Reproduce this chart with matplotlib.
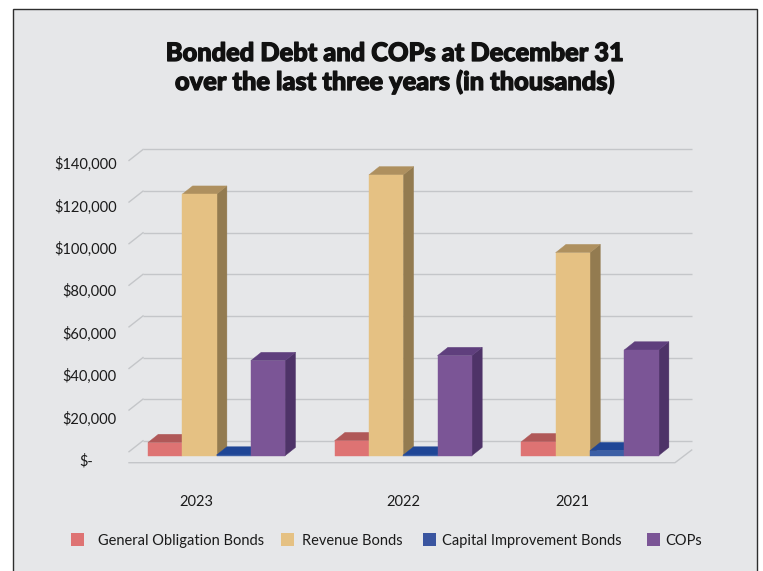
import matplotlib
matplotlib.use("Agg")
import matplotlib.pyplot as plt
import matplotlib.transforms as mtransforms
import matplotlib.patheffects as pe
from matplotlib import font_manager
from matplotlib.patches import Polygon, Rectangle

# ---- data (thousands of dollars) ----
years = ["2023", "2022", "2021"]
series_names = ["General Obligation Bonds", "Revenue Bonds",
                "Capital Improvement Bonds", "COPs"]
general_obligation = [6300, 7200, 6700]
revenue_bonds = [125700, 135000, 97600]
capital_improvement = [300, 300, 2400]
cops = [45700, 48100, 50800]
value_ticks = [0, 20000, 40000, 60000, 80000, 100000, 120000, 140000]

series_values = [general_obligation, revenue_bonds, capital_improvement, cops]

# shaded faces of each box: front, top, side
face_colors = [
    ("#de7373", "#b05858", "#994848"),
    ("#e5c183", "#ae905f", "#937b50"),
    ("#3c5fa5", "#1f4696", "#1a3a7c"),
    ("#7b5596", "#5f3f7d", "#4e3368"),
]
legend_colors = ["#de7373", "#e5c183", "#3a55a0", "#7b5596"]

GRID = "#c4c6c9"
TEXT = "#1b1b1b"
PANEL = "#e6e7e9"

W, H = 763, 571
fig = plt.figure(figsize=(W / 100, H / 100), dpi=100)
fig.patch.set_facecolor("white")

# (x from left, y from top) in pixels -> figure coordinates
PIX = mtransforms.Affine2D().scale(1 / W, -1 / H).translate(0, 1) + fig.transFigure

available = {f.name for f in font_manager.fontManager.ttflist}
body_font = "Lato" if "Lato" in available else "DejaVu Sans"

# framed grey panel
fig.add_artist(Rectangle((12.5, 9.3), 744.2, 600, transform=PIX,
                         facecolor=PANEL, edgecolor="#2e2e2e",
                         linewidth=1.0, zorder=-10))

# ---- plotting axes: category index on x, value on y ----
ORIGIN_X, ORIGIN_Y = 216.5, 455.7     # pixel of category 0 / value 0 on the bar fronts
CAT_PX = 186.7                        # pixels per category
VAL_PX = 2.08 / 1000                  # pixels per thousand dollars

ax = fig.add_axes([0, 0, 1, 1])
ax.set_xlim(-ORIGIN_X / CAT_PX, (W - ORIGIN_X) / CAT_PX)
ax.set_ylim((ORIGIN_Y - H) / VAL_PX, ORIGIN_Y / VAL_PX)
ax.axis("off")
ax.patch.set_visible(False)


def px_dx(p):
    return p / CAT_PX


def px_dy(p):
    return p / VAL_PX


def px_x(p):
    return (p - ORIGIN_X) / CAT_PX


def px_y(p):
    return (ORIGIN_Y - p) / VAL_PX


# back wall gridlines with the short receding side-wall strokes
WALL_LEFT, WALL_RIGHT = 143, 691.7
WALL_RISE = 15
SIDE_FRONT_X, SIDE_DROP = 129, 11
for v in value_ticks:
    yb = v + px_dy(WALL_RISE)
    ax.plot([px_x(WALL_LEFT), px_x(WALL_RIGHT)], [yb, yb], color=GRID,
            lw=1.0, solid_capstyle="butt", zorder=1)
    ax.plot([px_x(SIDE_FRONT_X), px_x(WALL_LEFT)], [yb - px_dy(SIDE_DROP), yb],
            color=GRID, lw=1.0, zorder=1)

# floor front edge
ax.plot([px_x(129), px_x(675), px_x(691.7)], [px_dy(-7), px_dy(-7), px_dy(5.7)],
        color=GRID, lw=1.0, zorder=1)

# ---- 3-D style boxes ----
BAR_PX = 34.3
DEPTH_X_PX, DEPTH_Y_PX = 10.4, 8.3
w = px_dx(BAR_PX)
ddx, ddy = px_dx(DEPTH_X_PX), px_dy(DEPTH_Y_PX)
n = len(series_values)
for i in range(len(years)):
    for j, vals in enumerate(series_values):
        v = vals[i]
        x0 = i + (j - n / 2) * w
        front, top, side = face_colors[j]
        z = 2 + i * 10 + j
        ax.add_patch(Polygon([(x0 + w, 0), (x0 + w + ddx, ddy),
                              (x0 + w + ddx, v + ddy), (x0 + w, v)],
                             closed=True, fc=side, ec=side, lw=0.3, zorder=z))
        ax.add_patch(Polygon([(x0, v), (x0 + w, v), (x0 + w + ddx, v + ddy),
                              (x0 + ddx, v + ddy)],
                             closed=True, fc=top, ec=top, lw=0.3, zorder=z))
        ax.add_patch(Rectangle((x0, 0), w, v, fc=front, ec=front, lw=0.3, zorder=z))

# ---- value labels ----
LABEL_RIGHT, LABEL_ZERO_Y, LABEL_STEP = 116.7, 460.5, 2.12 / 1000
for v in value_ticks:
    yc = LABEL_ZERO_Y - v * LABEL_STEP
    txt = "$-" if v == 0 else f"${v:,}"
    xr = LABEL_RIGHT - (23.7 if v == 0 else 0)
    fig.text(xr, yc + 5.3, txt, transform=PIX, ha="right", va="baseline",
             fontsize=10.5, family=body_font, color=TEXT)

# ---- category labels ----
YEAR_NUDGE_PX = [-19.8, -0.3, -17.3]
for i, yr in enumerate(years):
    ax.text(i + px_dx(YEAR_NUDGE_PX[i]), px_y(506), yr, ha="center",
            va="baseline", fontsize=10.5, family=body_font, color=TEXT)

# ---- legend ----
LEGEND_SQUARE_X = [71, 281, 423.3, 646.5]
LEGEND_TEXT_X = [97.8, 301.7, 442.3, 665]
for name, col, sx, tx in zip(series_names, legend_colors, LEGEND_SQUARE_X, LEGEND_TEXT_X):
    fig.add_artist(Rectangle((sx, 533), 13, 13, transform=PIX,
                             facecolor=col, edgecolor="none"))
    fig.text(tx, 545, name, transform=PIX, ha="left", va="baseline",
             fontsize=10.5, family=body_font, color=TEXT)

# ---- title, sized to its line width, with a thin outline for extra weight ----
title_lines = ["Bonded Debt and COPs at December 31",
               "over the last three years (in thousands)"]
title_color = "#111111"
heavy = [pe.withStroke(linewidth=0.9, foreground=title_color)]
renderer = fig.canvas.get_renderer()
t1 = fig.text(394.5, 61, title_lines[0], transform=PIX, ha="center",
              va="baseline", fontsize=16, family=body_font, weight="black",
              color=title_color, path_effects=heavy)
width = t1.get_window_extent(renderer).width * 100 / fig.dpi
size = 16 * 458 / width
t1.set_fontsize(size)
fig.text(394.5, 90, title_lines[1], transform=PIX, ha="center",
         va="baseline", fontsize=size, family=body_font, weight="black",
         color=title_color, path_effects=heavy)

fig.savefig("out.png", dpi=100, facecolor="white")
